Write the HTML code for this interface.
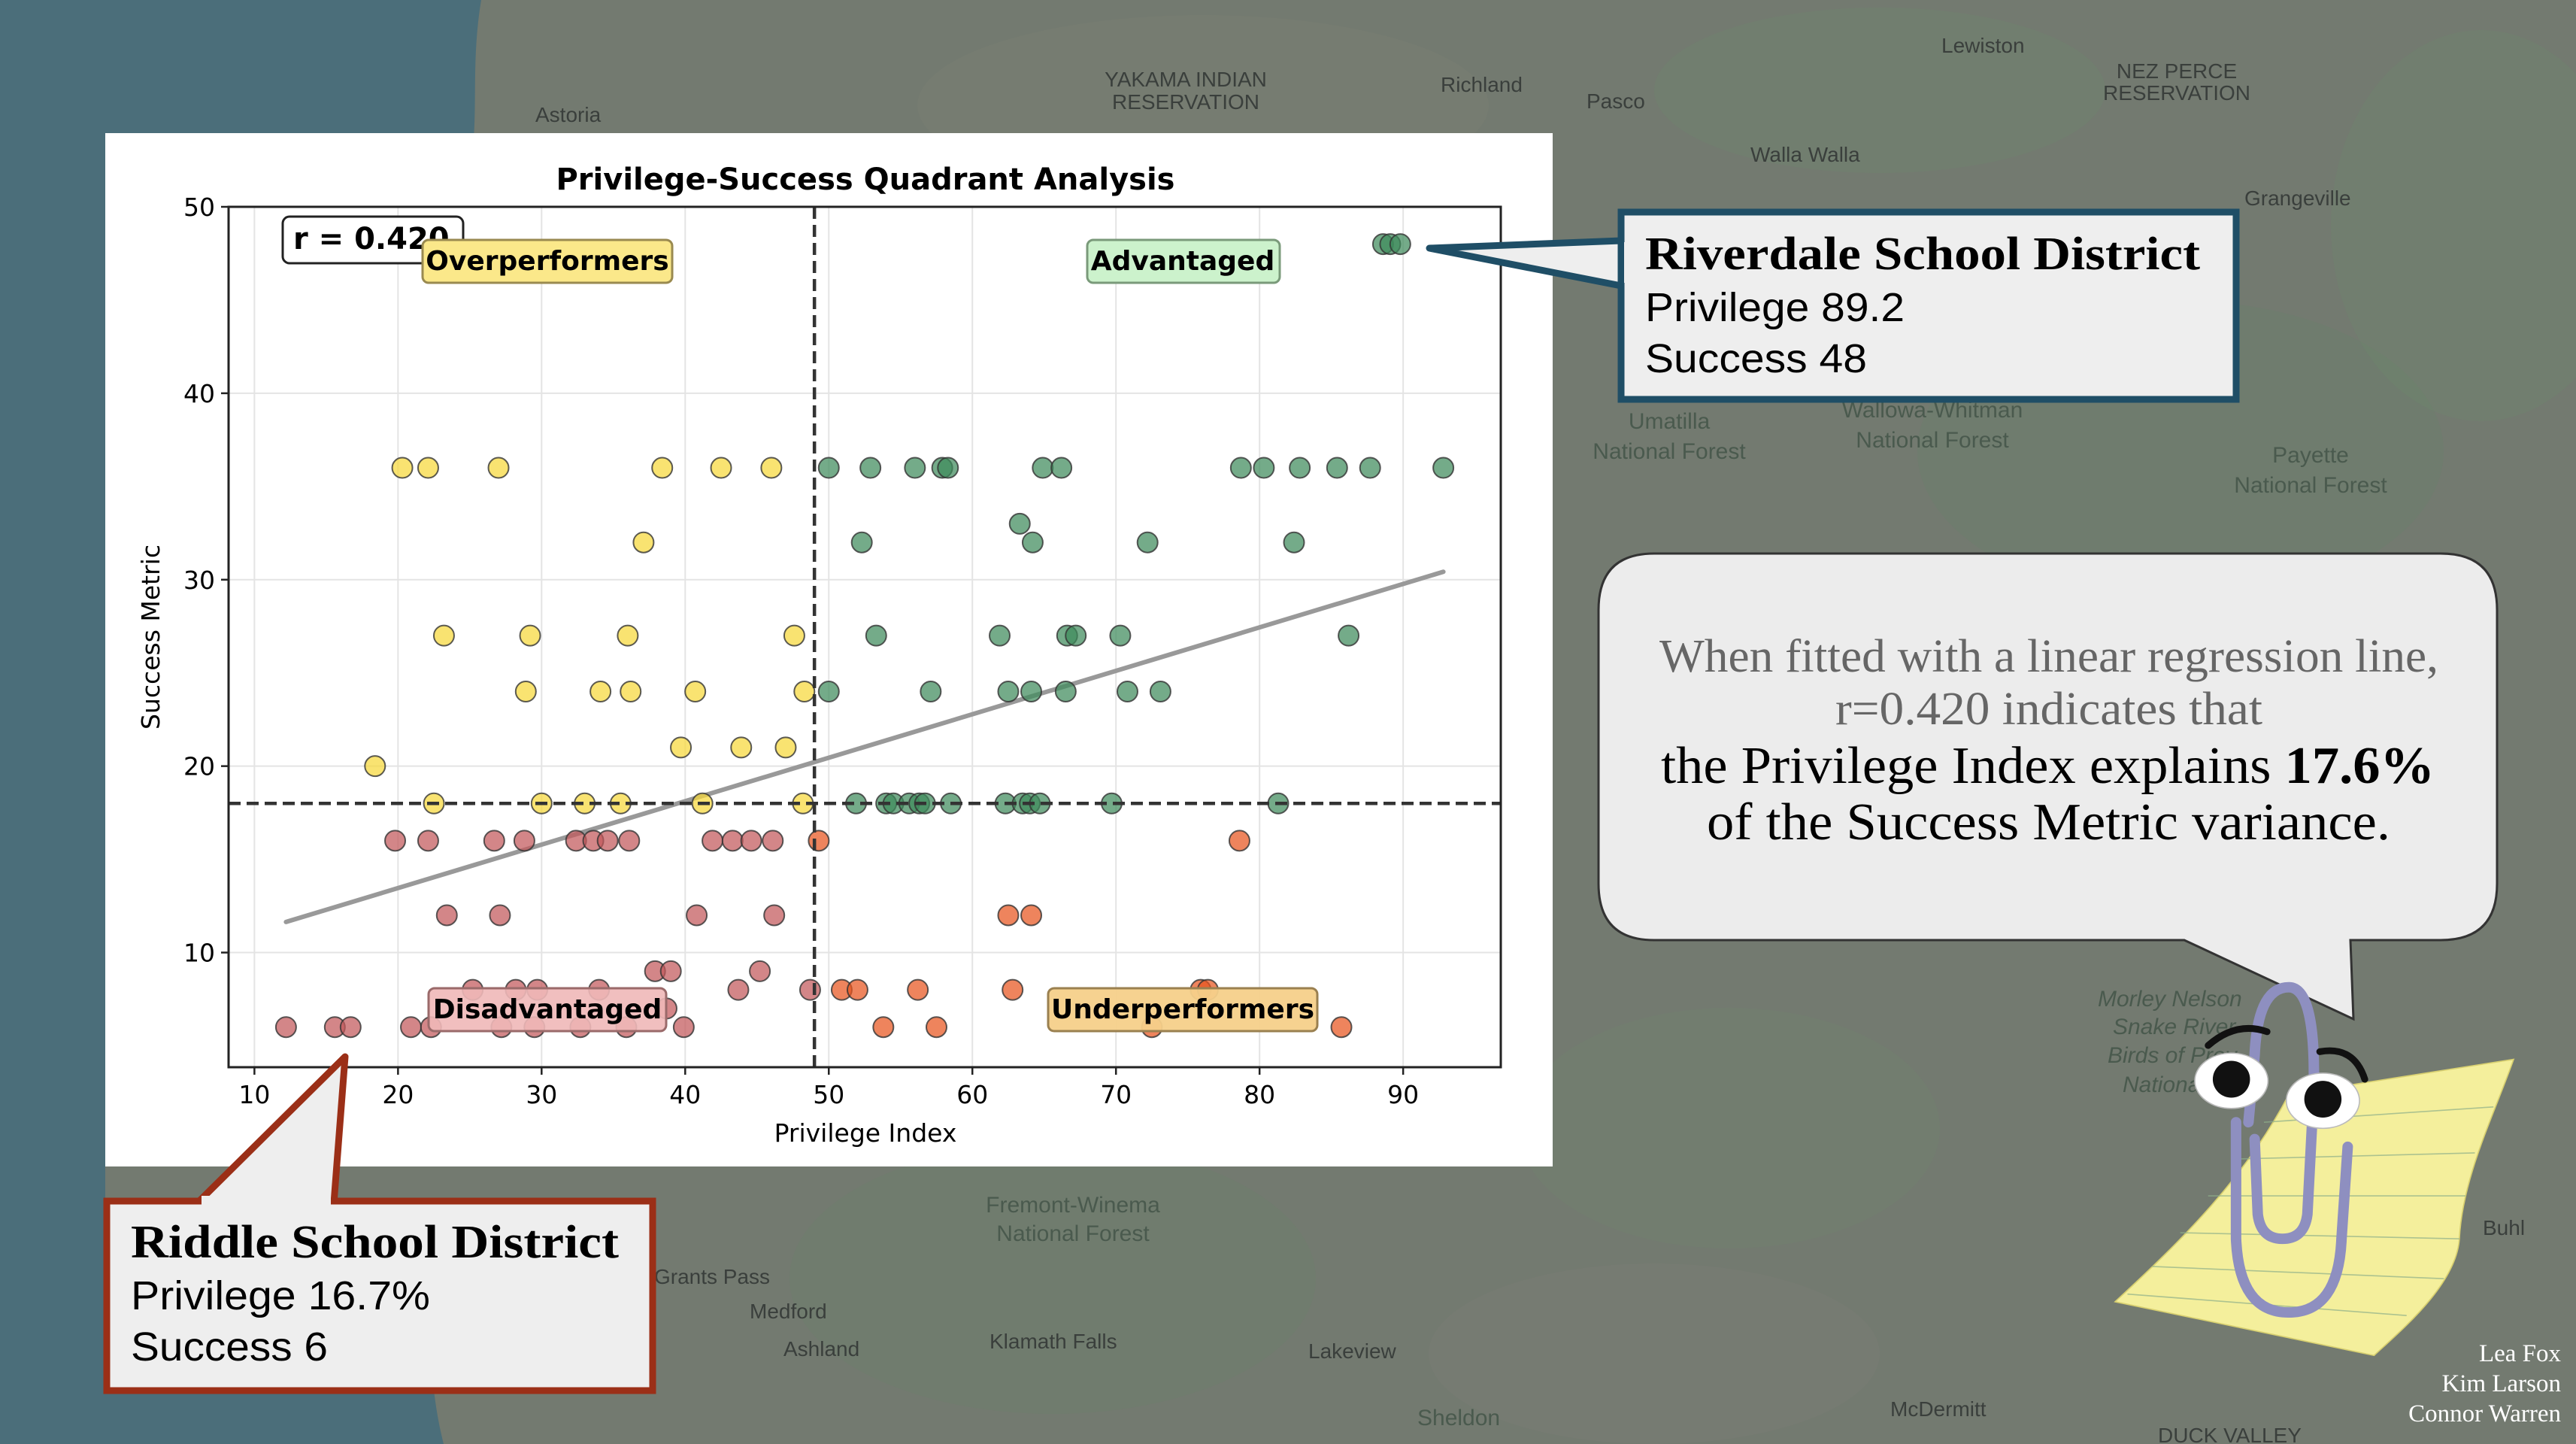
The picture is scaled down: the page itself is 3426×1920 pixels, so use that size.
<!DOCTYPE html>
<html><head><meta charset="utf-8"><style>
html,body{margin:0;padding:0;width:3426px;height:1920px;overflow:hidden;background:#737870}
svg{display:block}
text{font-family:"DejaVu Sans","Liberation Sans",sans-serif}
text.serif{font-family:"Liberation Serif","DejaVu Serif",serif}
text.lib{font-family:"Liberation Sans",sans-serif}
.map{font-family:"Liberation Sans",sans-serif;fill:#3a3f3c;font-size:28px}
.mapf{font-family:"Liberation Sans",sans-serif;fill:#4a5a4e;font-size:30px}
</style></head><body>
<svg id="root" width="3426" height="1920" viewBox="0 0 3426 1920" xmlns="http://www.w3.org/2000/svg">
<g>
 <rect x="0" y="0" width="3426" height="1920" fill="#737a70"/>
 <path d="M0 0 H640 C620 120 650 200 600 300 L140 300 L140 1600 L560 1600 C580 1700 560 1800 590 1920 H0 Z" fill="#4b6e7a"/>
 <ellipse cx="1600" cy="140" rx="380" ry="120" fill="#7b7f74" opacity="0.4"/>
 <ellipse cx="2500" cy="120" rx="300" ry="110" fill="#6b8a6c" opacity="0.25"/>
 <ellipse cx="2900" cy="600" rx="350" ry="200" fill="#658566" opacity="0.25"/>
 <ellipse cx="3300" cy="300" rx="200" ry="260" fill="#6a8a6a" opacity="0.25"/>
 <ellipse cx="1400" cy="1700" rx="350" ry="180" fill="#668567" opacity="0.25"/>
 <ellipse cx="2300" cy="1500" rx="280" ry="160" fill="#6d8a6d" opacity="0.2"/>
 <ellipse cx="2200" cy="1800" rx="300" ry="120" fill="#7d7f78" opacity="0.3"/>
 <text class="map" x="1577" y="115" text-anchor="middle">YAKAMA INDIAN</text>
 <text class="map" x="1577" y="145" text-anchor="middle">RESERVATION</text>
 <text class="map" x="1916" y="122">Richland</text>
 <text class="map" x="2110" y="144">Pasco</text>
 <text class="map" x="2582" y="70">Lewiston</text>
 <text class="map" x="2895" y="104" text-anchor="middle">NEZ PERCE</text>
 <text class="map" x="2895" y="133" text-anchor="middle">RESERVATION</text>
 <text class="map" x="712" y="162">Astoria</text>
 <text class="map" x="2328" y="215">Walla Walla</text>
 <text class="map" x="2985" y="273">Grangeville</text>
 <text class="mapf" x="2220" y="570" text-anchor="middle">Umatilla</text>
 <text class="mapf" x="2220" y="610" text-anchor="middle">National Forest</text>
 <text class="mapf" x="2570" y="555" text-anchor="middle">Wallowa-Whitman</text>
 <text class="mapf" x="2570" y="595" text-anchor="middle">National Forest</text>
 <text class="mapf" x="3073" y="615" text-anchor="middle">Payette</text>
 <text class="mapf" x="3073" y="655" text-anchor="middle">National Forest</text>
 <text class="mapf" x="1427" y="1612" text-anchor="middle">Fremont-Winema</text>
 <text class="mapf" x="1427" y="1650" text-anchor="middle">National Forest</text>
 <text class="map" x="870" y="1707">Grants Pass</text>
 <text class="map" x="997" y="1753">Medford</text>
 <text class="map" x="1042" y="1803">Ashland</text>
 <text class="map" x="1316" y="1793">Klamath Falls</text>
 <text class="map" x="1740" y="1806">Lakeview</text>
 <text class="map" x="2514" y="1883">McDermitt</text>
 <text class="mapf" x="1885" y="1895">Sheldon</text>
 <text class="map" x="2870" y="1918">DUCK VALLEY</text>
 <text class="map" x="3302" y="1642">Buhl</text>
 <text class="mapf" x="2790" y="1338" font-style="italic" fill="#3f6a4c">Morley Nelson</text>
 <text class="mapf" x="2810" y="1375" font-style="italic" fill="#3f6a4c">Snake River</text>
 <text class="mapf" x="2803" y="1413" font-style="italic" fill="#3f6a4c">Birds of Prey</text>
 <text class="mapf" x="2823" y="1452" font-style="italic" fill="#3f6a4c">National</text>
</g>

<g>
 <rect x="140" y="177" width="1925" height="1374" fill="#ffffff"/>
 <text x="1151" y="252" text-anchor="middle" font-size="40" font-weight="bold">Privilege-Success Quadrant Analysis</text>
 <g id="grid"></g>
 <g id="refl"></g>
 <g id="pts"></g>
 <rect x="304" y="275" width="1692" height="1144" fill="none" stroke="#222" stroke-width="3"/>
 <g id="ticks"></g>
 <text x="1151" y="1518" text-anchor="middle" font-size="33">Privilege Index</text>
 <text x="0" y="0" text-anchor="middle" font-size="33" transform="translate(212,847) rotate(-90)">Success Metric</text>
 <rect x="376" y="288" width="240" height="62" rx="9" fill="#fff" stroke="#222" stroke-width="3"/>
 <text x="390" y="331" font-size="40" font-weight="bold">r = 0.420</text>
 <rect x="562" y="319" width="332" height="57" rx="8" fill="#fbe88a" stroke="#9a8a50" stroke-width="3"/>
 <text x="728" y="359" text-anchor="middle" font-size="36" font-weight="bold">Overperformers</text>
 <rect x="1446" y="319" width="256" height="57" rx="8" fill="#ccf2cc" stroke="#7a9a7a" stroke-width="3"/>
 <text x="1573" y="359" text-anchor="middle" font-size="36" font-weight="bold">Advantaged</text>
 <rect x="570" y="1314" width="316" height="57" rx="8" fill="#efb8b8" fill-opacity="0.9" stroke="#9a6a6a" stroke-width="3"/>
 <text x="728" y="1354" text-anchor="middle" font-size="36" font-weight="bold">Disadvantaged</text>
 <rect x="1394" y="1314" width="358" height="57" rx="8" fill="#f6d08a" fill-opacity="0.95" stroke="#9a8050" stroke-width="3"/>
 <text x="1573" y="1354" text-anchor="middle" font-size="36" font-weight="bold">Underperformers</text>
</g>

<g>
 <polygon points="2156,320 1901,330 2156,380" fill="#eeeeee" stroke="#1f4e66" stroke-width="9" stroke-linejoin="round"/>
 <rect x="2156" y="282" width="818" height="249" fill="#eeeeee" stroke="#1f4e66" stroke-width="9"/>
 <rect x="2160" y="322" width="12" height="54" fill="#eeeeee"/>
 <text class="serif" x="2188" y="358" font-size="62" font-weight="bold" textLength="738" lengthAdjust="spacingAndGlyphs">Riverdale School District</text>
 <text class="lib" x="2188" y="427" font-size="54" textLength="345" lengthAdjust="spacingAndGlyphs">Privilege 89.2</text>
 <text class="lib" x="2188" y="495" font-size="54" textLength="295" lengthAdjust="spacingAndGlyphs">Success 48</text>
</g>

<g>
 <polygon points="262,1600 459,1405 444,1600" fill="#eeeeee" stroke="#9b2f17" stroke-width="9" stroke-linejoin="round"/>
 <rect x="142" y="1597" width="726" height="252" fill="#eeeeee" stroke="#9b2f17" stroke-width="9"/>
 <rect x="268" y="1590" width="172" height="14" fill="#eeeeee"/>
 <text class="serif" x="174" y="1672" font-size="62" font-weight="bold" textLength="649" lengthAdjust="spacingAndGlyphs">Riddle School District</text>
 <text class="lib" x="174" y="1741" font-size="54" textLength="398" lengthAdjust="spacingAndGlyphs">Privilege 16.7%</text>
 <text class="lib" x="174" y="1809" font-size="54" textLength="262" lengthAdjust="spacingAndGlyphs">Success 6</text>
</g>

<g>
 <path d="M2200 736 H3246 Q3321 736 3321 811 V1175 Q3321 1250 3246 1250 H3126 L3130 1355 L2905 1250 H2200 Q2126 1250 2126 1175 V811 Q2126 736 2200 736 Z" fill="#ececec" stroke="#333" stroke-width="3"/>
 <text class="serif" x="2207" y="893" font-size="62" fill="#666" textLength="1036" lengthAdjust="spacingAndGlyphs">When fitted with a linear regression line,</text>
 <text class="serif" x="2441" y="963" font-size="62" fill="#666" textLength="568" lengthAdjust="spacingAndGlyphs">r=0.420 indicates that</text>
 <text class="serif" x="2209" y="1041" font-size="70" fill="#000" textLength="1029" lengthAdjust="spacingAndGlyphs">the Privilege Index explains <tspan font-weight="bold">17.6%</tspan></text>
 <text class="serif" x="2270" y="1116" font-size="70" fill="#000" textLength="909" lengthAdjust="spacingAndGlyphs">of the Success Metric variance.</text>
</g>

<g transform="translate(2780,1280) scale(0.4125,0.408)">
 <path d="M640 430 L1365 315 C1300 500 1200 700 1190 900 C1180 1050 1000 1200 915 1280 L80 1105 C300 900 500 700 640 430 Z" fill="#f4ef9c" stroke="#d8d070" stroke-width="4"/>
 <g stroke="#8fb08a" stroke-width="4" opacity="0.7">
  <line x1="560" y1="520" x2="1300" y2="470"/><line x1="470" y1="640" x2="1240" y2="620"/><line x1="380" y1="760" x2="1210" y2="760"/><line x1="290" y1="880" x2="1190" y2="900"/><line x1="200" y1="990" x2="1140" y2="1030"/><line x1="120" y1="1080" x2="1020" y2="1150"/>
 </g>
 <path d="M470 520 L470 900 Q480 1140 640 1140 Q800 1140 810 900 L830 600 M530 575 L540 820 Q550 900 620 900 Q690 900 700 820 L720 430 Q730 80 640 80 Q540 80 530 300 L510 520" fill="none" stroke="#8e8fc0" stroke-width="34" stroke-linecap="round"/>
 <ellipse cx="455" cy="385" rx="118" ry="90" fill="#fff" stroke="#bbb" stroke-width="4"/>
 <ellipse cx="750" cy="450" rx="118" ry="90" fill="#fff" stroke="#bbb" stroke-width="4"/>
 <circle cx="455" cy="380" r="60" fill="#111"/>
 <circle cx="750" cy="445" r="60" fill="#111"/>
 <path d="M380 270 Q470 190 570 225" fill="none" stroke="#111" stroke-width="22" stroke-linecap="round"/>
 <path d="M740 290 Q850 270 885 380" fill="none" stroke="#111" stroke-width="22" stroke-linecap="round"/>
</g>

<g>
 <text class="serif" x="3406" y="1810" text-anchor="end" font-size="33" fill="#fff">Lea Fox</text>
 <text class="serif" x="3406" y="1850" text-anchor="end" font-size="33" fill="#fff">Kim Larson</text>
 <text class="serif" x="3406" y="1890" text-anchor="end" font-size="33" fill="#fff">Connor Warren</text>
</g>
</svg>
<script>
const overX = [20.3,22.1,27.0,38.4,42.5,46.0,37.1,23.2,29.2,36.0,47.6,28.9,34.1,36.2,40.7,48.3,39.7,43.9,47.0,18.4,22.5,30.0,33.0,35.5,41.2,48.2];
const overY = [36,36,36,36,36,36,32,27,27,27,27,24,24,24,24,24,21,21,21,20,18,18,18,18,18,18];
const disX = [19.8,22.1,26.7,28.8,32.4,33.6,34.6,36.1,41.9,43.3,44.6,46.1,23.4,27.1,40.8,46.2,37.9,39.0,45.2,25.2,28.2,29.7,34.0,43.7,48.7,38.7,12.2,15.6,16.7,20.9,22.3,27.2,29.5,32.7,35.9,39.9];
const disY = [16,16,16,16,16,16,16,16,16,16,16,16,12,12,12,12,9,9,9,8,8,8,8,8,8,7,6,6,6,6,6,6,6,6,6,6];
const advX = [50.0,52.9,56.0,57.9,58.3,64.9,66.2,78.7,80.3,82.8,85.4,87.7,92.8,63.3,52.3,64.2,72.2,82.4,53.3,61.9,66.6,67.2,70.3,86.2,50.0,57.1,62.5,64.1,66.5,70.8,73.1,51.9,54.0,54.5,55.6,56.3,56.7,58.5,62.3,63.5,64.0,64.7,69.7,81.3,88.6,89.1,89.8];
const advY = [36,36,36,36,36,36,36,36,36,36,36,36,36,33,32,32,32,32,27,27,27,27,27,27,24,24,24,24,24,24,24,18,18,18,18,18,18,18,18,18,18,18,18,18,48,48,48];
const underX = [49.3,78.6,62.5,64.1,50.9,52.0,56.2,62.8,75.9,76.4,53.8,57.5,72.5,85.7];
const underY = [16,16,12,12,8,8,8,8,8,8,6,6,6,6];
const xTicks = [10,20,30,40,50,60,70,80,90];
const yTicks = [10,20,30,40,50];
const xThreshold = 49;
const yThreshold = 18;

const NS = 'http://www.w3.org/2000/svg';
const X0=304, X1=1996, Y0=275, Y1=1419, XMIN=8.2, XMAX=96.8, YMIN=3.85, YMAX=50.0;
function sx(v){return X0+(v-XMIN)/(XMAX-XMIN)*(X1-X0);}
function sy(v){return Y1-(v-YMIN)/(YMAX-YMIN)*(Y1-Y0);}
function mk(tag, attrs, parent){const e=document.createElementNS(NS,tag);for(const k in attrs)e.setAttribute(k,attrs[k]);parent.appendChild(e);return e;}
const grid=document.getElementById('grid'), ticks=document.getElementById('ticks'), pts=document.getElementById('pts'), refl=document.getElementById('refl');
xTicks.forEach(t=>{
  const g=mk('line',{x1:sx(t),x2:sx(t),y1:Y0,y2:Y1,stroke:'#e4e4e4','stroke-width':2},grid);
  
  
  const tk=mk('line',{x1:sx(t),x2:sx(t),y1:Y1,y2:Y1+10,stroke:'#222','stroke-width':2.5},ticks);
  
  
  const l=mk('text',{x:sx(t),y:Y1+48,'text-anchor':'middle','font-size':33},ticks);
  l.textContent=t;
  
  
});
yTicks.forEach(t=>{
  const g=mk('line',{x1:X0,x2:X1,y1:sy(t),y2:sy(t),stroke:'#e4e4e4','stroke-width':2},grid);
  
  
  const tk=mk('line',{x1:X0-10,x2:X0,y1:sy(t),y2:sy(t),stroke:'#222','stroke-width':2.5},ticks);
  
  
  const l=mk('text',{x:X0-18,y:sy(t)+12,'text-anchor':'end','font-size':33},ticks);
  l.textContent=t;
  
  
});
const allX=overX.concat(disX,advX,underX), allY=overY.concat(disY,advY,underY);
const n=allX.length; let mx=0,my=0; for(let i=0;i<n;i++){mx+=allX[i];my+=allY[i];} mx/=n;my/=n;
let sxy=0,sxx=0; for(let i=0;i<n;i++){sxy+=(allX[i]-mx)*(allY[i]-my);sxx+=(allX[i]-mx)**2;}
const slope=sxy/sxx, icpt=my-slope*mx;
const xa=Math.min(...allX), xb=Math.max(...allX);
const reg=mk('line',{x1:sx(xa),y1:sy(icpt+slope*xa),x2:sx(xb),y2:sy(icpt+slope*xb),stroke:'#999','stroke-width':6,'stroke-linecap':'round'},refl);


function series(xs,ys,color,name){
  for(let i=0;i<xs.length;i++){
    const c=mk('circle',{cx:sx(xs[i]),cy:sy(ys[i]),r:13.5,fill:color,'fill-opacity':0.72,stroke:'#333','stroke-opacity':0.8,'stroke-width':2},pts);
    
    
  }
}
series(overX,overY,'#f7d83a','overperformer-point');
series(disX,disY,'#c2585a','disadvantaged-point');
series(advX,advY,'#3f8a5c','advantaged-point');
series(underX,underY,'#e8541e','underperformer-point');
const vl=mk('line',{x1:sx(xThreshold),x2:sx(xThreshold),y1:Y0,y2:Y1,stroke:'#333','stroke-width':4.5,'stroke-dasharray':'16 8'},pts);


const hl=mk('line',{x1:X0,x2:X1,y1:sy(yThreshold),y2:sy(yThreshold),stroke:'#333','stroke-width':4.5,'stroke-dasharray':'16 8'},pts);


</script>
</body></html>
